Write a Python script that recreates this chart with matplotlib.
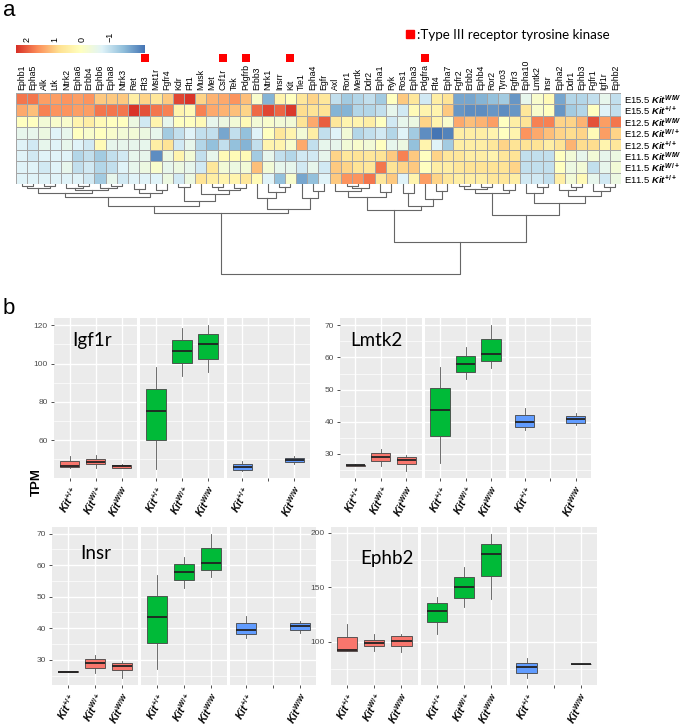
import numpy as np
import matplotlib
matplotlib.use("Agg")
import matplotlib.pyplot as plt
import matplotlib.transforms as mtransforms
from matplotlib.colors import LinearSegmentedColormap, Normalize
from matplotlib.cm import ScalarMappable
from matplotlib.lines import Line2D
from matplotlib.ticker import MultipleLocator

# ----------------------------
# Data: heatmap (z-scores of RTK expression)
# ----------------------------
genes = ["Ephb1", "Epha5", "Alk", "Ltk", "Ntrk2", "Epha6", "Erbb4", "Ephb6", "Epha8", "Ntrk3",
         "Ret", "Flt3", "Mst1r", "Fgfr4", "Kdr", "Flt1", "Musk", "Met", "Csf1r", "Tek",
         "Pdgfrb", "Erbb3", "Ntrk1", "Insrr", "Kit", "Tie1", "Epha4", "Egfr", "Axl", "Ror1",
         "Mertk", "Ddr2", "Epha1", "Ryk", "Ros1", "Epha3", "Pdgfra", "Flt4", "Epha7", "Fgfr2",
         "Erbb2", "Ephb4", "Ror2", "Tyro3", "Fgfr3", "Epha10", "Lmtk2", "Insr", "Epha2", "Ddr1",
         "Ephb3", "Fgfr1", "Igf1r", "Ephb2"]

type3_genes = ["Flt3", "Csf1r", "Pdgfrb", "Kit", "Pdgfra"]

row_labels = [r"E15.5 $Kit^{W/W}$", r"E15.5 $Kit^{+/+}$", r"E12.5 $Kit^{W/W}$", r"E12.5 $Kit^{W/+}$",
              r"E12.5 $Kit^{+/+}$", r"E11.5 $Kit^{W/W}$", r"E11.5 $Kit^{W/+}$", r"E11.5 $Kit^{+/+}$"]

e155_ww = [1.8, 1.8, 1.45, 1.45, 1.55, 1.45, 1.55, 1.05, 1.05, 1.05,
           0.5, 0.95, 0.65, 1.05, 2.2, 2.35, 0.95, 1.25, 1.35, 1.55,
           1.15, -0.1, -1.6, 0.35, 0.05, 0.65, 0.95, 0.65, -1.0, -1.3,
           -1.15, -1.0, -1.3, 0.05, 1.05, 0.65, -0.85, 0.5, 0.75, -1.75,
           -1.75, -1.6, -1.45, -1.3, -1.9, -0.55, -0.1, 0.2, -1.75, -1.15,
           -1.15, -1.0, -0.55, -1.0]
e155_pp = [1.35, 1.15, 1.7, 1.55, 1.55, 1.45, 1.45, 1.8, 1.8, 1.8,
           2.35, 2.1, 1.8, 1.7, 0.35, 0.2, 1.7, 1.35, 1.25, 1.15,
           0.95, 1.9, 2.2, 1.95, 2.3, 0.85, 0.75, 0.75, -1.6, -1.6,
           -1.15, -1.15, -1.0, -0.55, -0.85, 0.2, 0.35, 0.35, 1.05, -1.9,
           -2.0, -2.0, -1.9, -2.0, -1.9, 0.65, -0.1, 0.05, -1.9, -1.3,
           -1.15, 0.05, -0.7, -1.0]
e125_ww = [0.05, 0.05, -0.25, -0.1, -0.1, 0.35, 0.5, 0.2, 0.05, 0.05,
           -0.4, -0.85, 0.35, -0.55, 0.05, 0.05, 0.2, -0.55, -0.4, -0.25,
           0.2, -0.25, -0.1, -0.25, -0.25, 0.75, 1.35, 2.0, 0.65, 0.35,
           0.35, 0.5, 0.05, -0.85, -0.55, -0.4, 0.95, 0.35, -0.1, 1.35,
           1.15, 1.25, 1.45, 0.05, 0.5, 0.75, 1.7, 1.7, 0.95, 0.95,
           1.25, 2.1, 1.45, 1.8]
e125_wp = [-0.55, -0.55, -0.4, -0.7, -0.55, 0.05, -0.1, 0.05, -0.1, -0.25,
           -0.25, -0.4, -0.55, -1.3, -1.0, -0.7, -1.0, -1.0, -1.75, -1.0,
           -1.45, -0.7, 0.05, 0.65, 0.35, -0.25, 0.5, -1.0, -0.7, -0.25,
           -1.15, -1.0, -0.85, -1.15, -0.7, -1.3, -2.0, -2.26, -2.1, 0.5,
           0.5, 0.5, 0.35, 0.05, 0.35, 1.55, 1.35, 1.15, 0.95, 0.85,
           0.95, 0.2, 1.45, 0.95]
e125_pp = [-0.7, -0.85, -0.55, -0.7, -0.55, -0.7, -0.85, 0.2, -0.55, -0.55,
           -0.55, -0.55, 0.5, 0.75, -0.85, -0.55, -1.15, -1.45, -1.0, -1.45,
           -1.6, -1.0, 0.35, 0.35, -0.1, 1.35, -1.0, -0.55, -0.55, -0.25,
           -0.1, -0.25, 0.05, -0.55, -0.4, -1.45, 0.35, -0.7, -1.3, 0.5,
           0.5, 0.5, 0.65, 0.95, 0.75, 0.75, 0.75, 0.5, 0.75, 1.25,
           0.85, 0.85, 0.35, 0.65]
e115_ww = [-0.7, -0.85, -0.7, -0.7, -0.7, -1.15, -1.0, -1.3, -1.0, -0.85,
           -0.55, -0.55, -2.0, -0.4, 0.35, -0.25, -1.0, -0.55, 0.2, 0.2,
           0.2, -1.3, -0.55, -1.0, -1.15, -0.85, -0.85, -0.55, 0.95, 0.65,
           0.75, 0.65, 0.75, 1.05, 1.7, 1.05, 0.05, 0.95, 0.65, 0.65,
           0.5, 0.5, 0.35, 0.65, 0.75, -1.0, -1.0, -1.0, 0.05, -0.25,
           -0.55, -0.25, -0.55, -0.4]
e115_wp = [-0.7, -0.7, -0.85, -0.7, -0.55, -1.0, -0.85, -1.15, -1.0, -0.7,
           -0.55, -0.4, -0.1, -0.55, -0.4, -0.55, -0.85, 0.65, -0.25, -0.4,
           -0.25, 1.15, -0.25, -0.55, -0.55, -0.85, -0.55, -0.85, 1.05, 0.95,
           0.75, 0.65, 1.8, 0.75, 0.95, 1.05, 0.05, 0.5, 0.5, 0.65,
           0.75, 0.75, 0.75, 0.75, 0.95, -1.0, -1.0, -1.0, 0.05, -0.4,
           -0.25, -1.0, -0.55, -0.25]
e115_pp = [-0.7, -0.7, -0.7, -0.7, -0.7, -0.7, -0.85, -1.3, -0.55, -0.85,
           -0.7, -0.7, -0.7, -0.4, -0.85, -0.4, 0.75, 0.5, 0.35, 0.35,
           0.65, 0.2, -0.7, -1.45, -0.1, -1.75, -1.45, -0.7, 1.05, 1.55,
           1.55, 1.8, 0.65, 1.05, -0.7, 0.35, 1.45, 0.95, 0.65, 0.5,
           0.5, 0.5, 0.65, 0.65, 0.5, -0.85, -0.85, -1.0, 0.5, -0.25,
           0.2, -0.55, -0.85, -0.4]

# column dendrogram: (left, right, merge height), leaves are column indices
col_tree = (
    (
        (
            ((((0, 1, 2), (2, 3, 2), 4), ((4, (5, 6, 2), 4), (7, (8, 9, 2), 4), 6), 9),
             ((10, 11, 5), (12, 13, 6), 9), 13),
            ((14, 15, 3), (16, ((17, 18, 3), (19, 20, 4), 6), 10), 17),
            22),
        ((21, (22, (23, 24, 3), 8), 14), (25, (26, 27, 7), 14), 25),
        29),
    (
        (((28, ((29, 30, 2), 31, 4), 7), (32, 33, 8), 13),
         ((34, 35, 9), (36, (37, 38, 7), 15), 22), 26),
        ((((39, 40, 2), (41, 42, 3), 5), (43, 44, 6), 9),
         ((45, (46, 47, 3), 9), ((48, (49, 50, 3), 6), (51, (52, 53, 3), 7), 12), 19), 31),
        58),
    90)

# ----------------------------
# Data: boxplots (TPM), [low whisker, q1, median, q3, high whisker]
# ----------------------------
group_labels = [[r"$Kit^{+/+}$", r"$Kit^{W/+}$", r"$Kit^{W/W}$"],
                [r"$Kit^{+/+}$", r"$Kit^{W/+}$", r"$Kit^{W/W}$"],
                [r"$Kit^{+/+}$", "", r"$Kit^{W/W}$"]]
group_pos = [[1, 2, 3], [1, 2, 3], [1, 3]]
facet_colors = ["#F8766D", "#00BA38", "#619CFF"]

igf1r = [[45.4, 46.0, 46.5, 49.0, 51.6], [45.4, 47.4, 48.6, 50.0, 52.0], [45.4, 45.4, 46.3, 46.8, 47.3],
         [44.7, 60.0, 75.3, 86.7, 98.0], [93.7, 100.2, 106.3, 112.5, 118.8], [95.4, 102.5, 110.3, 115.3, 120.0],
         [44.0, 44.6, 45.8, 47.5, 49.3], [47.3, 48.4, 49.5, 50.7, 51.6]]
lmtk2 = [[26.2, 26.4, 26.6, 26.7, 26.8], [26.3, 27.8, 29.2, 30.4, 31.5], [24.8, 26.8, 28.1, 29.2, 29.7],
         [27.3, 35.6, 43.8, 50.6, 57.1], [53.2, 55.5, 58.1, 60.5, 63.1], [56.8, 58.8, 61.0, 65.6, 70.0],
         [37.4, 38.5, 39.8, 42.1, 44.2], [39.0, 39.7, 40.9, 41.8, 42.6]]
insr = [[26.1, 26.2, 26.3, 26.5, 26.6], [25.8, 27.5, 29.1, 30.3, 31.4], [24.3, 26.7, 28.0, 29.1, 29.6],
        [27.0, 35.3, 43.5, 50.3, 57.0], [52.8, 55.3, 57.8, 60.3, 62.7], [56.3, 58.5, 60.7, 65.3, 69.8],
        [37.0, 38.3, 39.6, 41.8, 44.0], [38.6, 39.5, 40.6, 41.6, 42.3]]
ephb2 = [[91.6, 91.6, 92.8, 104.8, 116.2], [91.6, 96.4, 99.1, 101.5, 106.9], [90.7, 95.8, 100.6, 105.1, 106.9],
         [107.5, 118.0, 128.5, 135.1, 141.1], [132.1, 140.5, 150.1, 158.9, 168.2], [139.6, 160.0, 180.5, 189.5, 198.5],
         [67.0, 71.2, 76.6, 80.8, 85.3], [79.2, 79.4, 79.6, 79.8, 80.0]]

# ----------------------------
# Style
# ----------------------------
W, H = 685, 728
VMIN, VMAX = -2.26, 2.39
plt.rcParams['font.family'] = ['Liberation Sans', 'DejaVu Sans']
plt.rcParams['mathtext.fontset'] = 'custom'
plt.rcParams['mathtext.it'] = 'Liberation Sans:italic:bold'
plt.rcParams['mathtext.rm'] = 'Liberation Sans:bold'
plt.rcParams['mathtext.bf'] = 'Liberation Sans:bold'

heat_cmap = LinearSegmentedColormap.from_list(
    "rdylbu7", ["#4575B4", "#91BFDB", "#E0F3F8", "#FFFFBF", "#FEE090", "#FC8D59", "#D73027"])


def px_axes(fig, x0, y0, x1, y1):
    # axes placed by pixel box (top-left origin)
    return fig.add_axes([x0 / W, 1 - y1 / H, (x1 - x0) / W, (y1 - y0) / H])


def draw_tree(ax, node):
    if isinstance(node, int):
        return node + 0.5, 0.0
    left, right, h = node
    xl, hl = draw_tree(ax, left)
    xr, hr = draw_tree(ax, right)
    ax.plot([xl, xl, xr, xr], [hl, h, h, hr], color="#666666", lw=0.8)
    return (xl + xr) / 2, h


def draw_heatmap(fig):
    mat = np.array([e155_ww, e155_pp, e125_ww, e125_wp, e125_pp, e115_ww, e115_wp, e115_pp])
    n_rows, n_cols = mat.shape

    ax = px_axes(fig, 16, 93, 621, 184)
    ax.pcolormesh(mat, cmap=heat_cmap, vmin=VMIN, vmax=VMAX, edgecolors="#a5a5a5", linewidth=0.6)
    ax.set_xlim(0, n_cols)
    ax.set_ylim(n_rows, 0)
    ax.set_xticks(np.arange(n_cols) + 0.5)
    ax.set_xticklabels(genes, rotation=90, fontsize=6.3)
    ax.xaxis.tick_top()
    ax.set_yticks(np.arange(n_rows) + 0.5)
    ax.set_yticklabels(row_labels, fontsize=6.8)
    ax.yaxis.tick_right()
    ax.tick_params(length=0, pad=2)
    for s in ax.spines.values():
        s.set_visible(False)

    # type III RTK markers
    trans = mtransforms.blended_transform_factory(ax.transData, ax.transAxes)
    idx = np.array([genes.index(g) for g in type3_genes])
    ax.scatter(idx + 0.5, np.full(len(idx), 1.385), marker="s", s=28, color="#FF0000",
               transform=trans, clip_on=False, linewidths=0)

    handle = Line2D([], [], marker="s", color="#FF0000", linestyle="none", markersize=5.5)
    fig.legend([handle], [":Type III receptor tyrosine kinase"], loc="center left",
               bbox_to_anchor=(398 / W, 1 - 35 / H), frameon=False, handletextpad=0.05,
               handlelength=1.0, borderaxespad=0, prop={"family": "Lato", "size": 9.6})

    # colour key
    cax = px_axes(fig, 16, 45, 145, 53)
    cb = fig.colorbar(ScalarMappable(norm=Normalize(VMIN, VMAX), cmap=heat_cmap), cax=cax,
                      orientation="horizontal", ticks=[2, 1, 0, -1])
    cb.outline.set_visible(False)
    cax.invert_xaxis()
    cax.xaxis.set_ticks_position("top")
    cax.tick_params(length=0, pad=2, labelsize=6.5, labelrotation=90)

    # dendrogram
    dax = px_axes(fig, 16, 184, 621, 276)
    dax.set_xlim(0, n_cols)
    dax.set_ylim(92, 0)
    dax.axis("off")
    draw_tree(dax, col_tree)


def draw_box_panel(fig, rect, gene, stats, step, title_xy):
    x0, y0, x1, y1 = rect
    gap = 3
    fw = (x1 - x0 - 2 * gap) / 3
    lo = min(s[0] for s in stats)
    hi = max(s[4] for s in stats)
    pad = 0.05 * (hi - lo)
    k = 0
    first = None
    for f in range(3):
        ax = px_axes(fig, x0 + f * (fw + gap), y0, x0 + f * (fw + gap) + fw, y1)
        if first is None:
            first = ax
        bstats = []
        for _ in group_pos[f]:
            s = stats[k]
            bstats.append(dict(whislo=s[0], q1=s[1], med=s[2], q3=s[3], whishi=s[4], fliers=[]))
            k += 1
        ax.bxp(bstats, positions=group_pos[f], widths=0.75, patch_artist=True,
               showfliers=False, showcaps=False,
               boxprops=dict(facecolor=facet_colors[f], edgecolor="#444444", linewidth=0.6),
               medianprops=dict(color="#222222", linewidth=1.3),
               whiskerprops=dict(color="#555555", linewidth=0.6))
        ax.set_xlim(0.4, 3.6)
        ax.set_ylim(lo - pad, hi + pad)
        ax.set_facecolor("#EBEBEB")
        for s in ax.spines.values():
            s.set_visible(False)
        ax.yaxis.set_major_locator(MultipleLocator(step))
        ax.yaxis.set_minor_locator(MultipleLocator(step / 2))
        ax.grid(which="major", color="white", linewidth=1.0)
        ax.grid(which="minor", axis="y", color="white", linewidth=0.5)
        ax.set_axisbelow(True)
        ax.set_xticks([1, 2, 3])
        ax.set_xticklabels(group_labels[f], rotation=60, ha="right", rotation_mode="anchor", fontsize=7.4)
        ax.tick_params(axis="x", length=2.5, width=0.6, color="#333333", pad=2)
        ax.tick_params(which="minor", length=0)
        if f == 0:
            ax.tick_params(axis="y", length=2.5, width=0.6, color="#333333", labelsize=6,
                           labelcolor="#4D4D4D", pad=2)
        else:
            ax.tick_params(axis="y", length=0, labelleft=False)
    first.text(title_xy[0], title_xy[1], gene, transform=first.transAxes, fontsize=13.5,
               family="Lato", va="center", ha="left")


def main():
    fig = plt.figure(figsize=(W / 100, H / 100), dpi=100)

    draw_heatmap(fig)

    draw_box_panel(fig, (54, 318, 310, 478), "Igf1r", igf1r, 20, (0.22, 0.86))
    draw_box_panel(fig, (340, 318, 591, 478), "Lmtk2", lmtk2, 10, (0.12, 0.86))
    draw_box_panel(fig, (52, 527, 316, 685), "Insr", insr, 10, (0.33, 0.83))
    draw_box_panel(fig, (331, 527, 597, 685), "Ephb2", ephb2, 50, (0.34, 0.80))

    fig.text(9 / W, 1 - 11 / H, "a", fontsize=16, ha="center", va="center")
    fig.text(9 / W, 1 - 308 / H, "b", fontsize=16, ha="center", va="center")
    fig.text(37 / W, 1 - 482 / H, "TPM", rotation=90, fontsize=9.5, fontweight="bold",
             ha="center", va="center")

    fig.savefig("out.png", dpi=100)
    plt.close(fig)


if __name__ == "__main__":
    main()
